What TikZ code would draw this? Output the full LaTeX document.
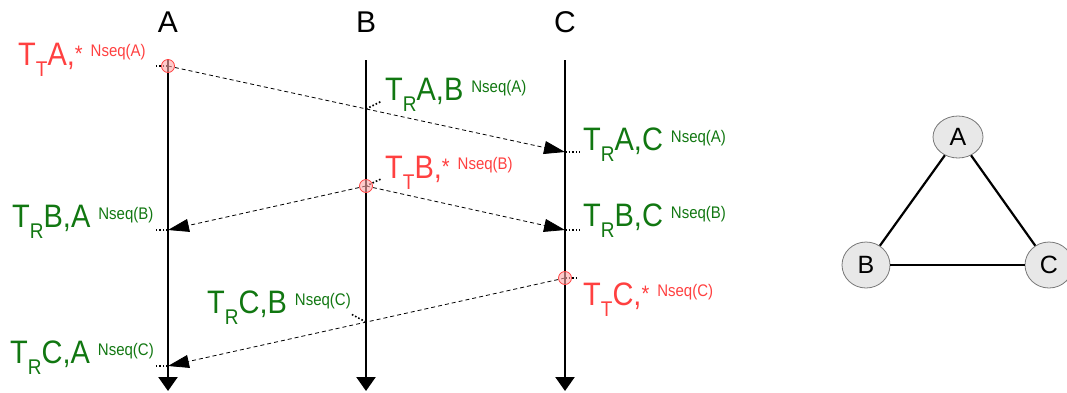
\documentclass[tikz,border=0pt]{standalone}
\usepackage{graphicx}
\usepackage{fontspec}
\setmainfont{Liberation Sans}
\usetikzlibrary{arrows.meta,shapes.geometric}
\definecolor{grn}{RGB}{17,119,17}
\definecolor{rd}{RGB}{255,64,64}
\definecolor{nodegray}{RGB}{232,232,232}
\definecolor{nodeline}{RGB}{120,120,120}
\newcommand{\rcvlab}[3]{\scalebox{1}[1.12]{T\raisebox{-10pt}{\fontsize{19}{19}\selectfont R}#1,#2\hspace{8pt}\raisebox{7pt}{\fontsize{15}{15}\selectfont Nseq(#3)}}}
\newcommand{\sndlab}[1]{\scalebox{1}[1.12]{T\raisebox{-10pt}{\fontsize{19}{19}\selectfont T}#1,\raisebox{3pt}{\fontsize{20}{20}\selectfont *}\hspace{8pt}\raisebox{7.5pt}{\fontsize{15}{15}\selectfont Nseq(#1)}}}
\begin{document}
\begin{tikzpicture}[x=1pt,y=-1pt,
  hdr/.style={font=\fontsize{30}{32}\selectfont, anchor=base, inner sep=0pt},
  tl/.style={line width=2.4pt, -{Triangle[length=14pt,width=19pt]}},
  msg/.style={line width=0.8pt, dash pattern=on 4pt off 3pt, -{Triangle[length=21pt,width=13pt]}},
  tick/.style={line width=1.6pt, dotted},
  evt/.style={circle, minimum size=13pt, inner sep=0pt, draw=rd, line width=0.8pt, fill=rd!45, fill opacity=0.6},
  lab/.style={font=\fontsize{29}{33}\selectfont, anchor=base west, inner sep=0pt},
  gnode/.style={ellipse, draw=nodeline, fill=nodegray, line width=0.8pt, inner sep=0pt, font=\fontsize{25}{27}\selectfont}
]
\useasboundingbox (0,0) rectangle (1067,392);
% headers
\node[hdr] (hA) at (168,32) {A};
\node[hdr] (hB) at (366,32) {B};
\node[hdr] (hC) at (565,32) {C};
% timelines
\coordinate (Atop) at (168,60); \coordinate (Abot) at (168,391);
\coordinate (Btop) at (366,60); \coordinate (Bbot) at (366,391);
\coordinate (Ctop) at (565,60); \coordinate (Cbot) at (565,391);
\draw[tl] (Atop) -- (Abot);
\draw[tl] (Btop) -- (Bbot);
\draw[tl] (Ctop) -- (Cbot);
% events
\coordinate (sA) at (168,66);
\coordinate (xAB) at (366,109);
\coordinate (rAC) at (565,152);
\coordinate (sB) at (366,186);
\coordinate (rBA) at (168,230);
\coordinate (rBC) at (565,230);
\coordinate (sC) at (565,278);
\coordinate (xCB) at (366,322);
\coordinate (rCA) at (168,366);
% tick ends
\coordinate (tsA) at (154,66);
\coordinate (txAB) at (382,101);
\coordinate (trAC) at (580,152);
\coordinate (tsB) at (381,179);
\coordinate (trBA) at (154,230);
\coordinate (trBC) at (580,230);
\coordinate (tsC) at (579,278);
\coordinate (txCB) at (351,314);
\coordinate (trCA) at (154,366);
\draw[tick] (sA) -- (tsA);
\draw[tick] (xAB) -- (txAB);
\draw[tick] (rAC) -- (trAC);
\draw[tick] (sB) -- (tsB);
\draw[tick] (rBA) -- (trBA);
\draw[tick] (rBC) -- (trBC);
\draw[tick] (sC) -- (tsC);
\draw[tick] (xCB) -- (txCB);
\draw[tick] (rCA) -- (trCA);
% messages
\draw[msg] (sA) -- (rAC);
\draw[msg] (sB) -- (rBA);
\draw[msg] (sB) -- (rBC);
\draw[msg] (sC) -- (rCA);
% send markers
\node[evt] (cA) at (sA) {};
\node[evt] (cB) at (sB) {};
\node[evt] (cC) at (sC) {};
% labels
\node[lab, text=rd] (lsA) at (18,65) {\sndlab{A}};
\node[lab, text=grn] (lAB) at (385,100) {\rcvlab{A}{B}{A}};
\node[lab, text=grn] (lAC) at (583,150) {\rcvlab{A}{C}{A}};
\node[lab, text=rd] (lsB) at (385,178) {\sndlab{B}};
\node[lab, text=grn] (lBA) at (12,227) {\rcvlab{B}{A}{B}};
\node[lab, text=grn] (lBC) at (583,226) {\rcvlab{B}{C}{B}};
\node[lab, text=rd] (lsC) at (583,305) {\sndlab{C}};
\node[lab, text=grn] (lCB) at (207,313) {\rcvlab{C}{B}{C}};
\node[lab, text=grn] (lCA) at (10,363) {\rcvlab{C}{A}{C}};
% graph
\node[gnode, minimum width=50pt, minimum height=42pt] (nA) at (958,137) {A};
\node[gnode, minimum width=48pt, minimum height=46pt] (nB) at (866,265) {B};
\node[gnode, minimum width=48pt, minimum height=46pt] (nC) at (1049,265) {C};
\draw[line width=2.2pt] (nA) -- (nB);
\draw[line width=2.2pt] (nA) -- (nC);
\draw[line width=2.2pt] (nB) -- (nC);
\end{tikzpicture}
\end{document}
